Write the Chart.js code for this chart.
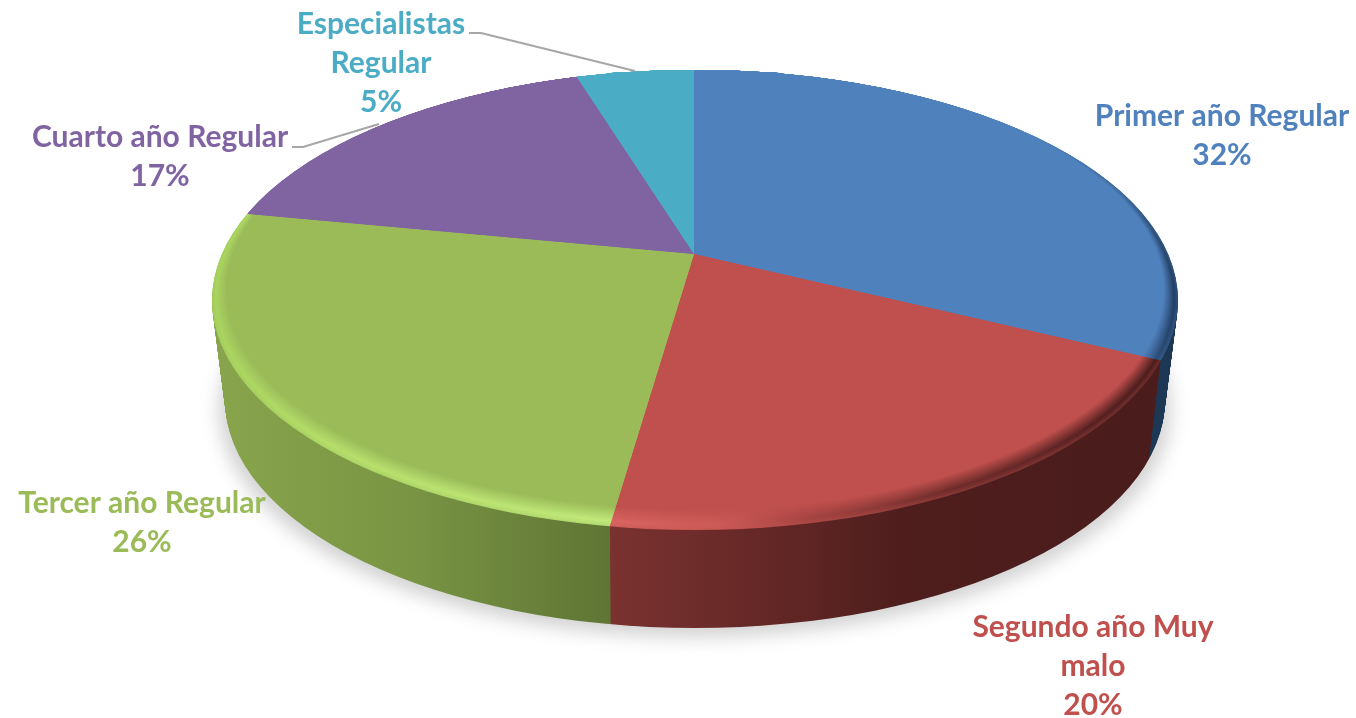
<!DOCTYPE html>
<html>
<head>
<meta charset="utf-8">
<title>Pie</title>
<script src="https://cdn.jsdelivr.net/npm/chart.js@4/dist/chart.umd.min.js"></script>
<style>
    html, body { margin: 0; padding: 0; background: #fff; }
    canvas { display: block; }
</style>
</head>
<body>
<canvas id="pie" width="1356" height="718"></canvas>
<script>
const categories = ['Primer año Regular', 'Segundo año Muy malo', 'Tercer año Regular', 'Cuarto año Regular', 'Especialistas Regular'];
const shares = [32.2, 20.1, 25.7, 17.2, 4.8];
const labelLines = [
    ['Primer año Regular'],
    ['Segundo año Muy', 'malo'],
    ['Tercer año Regular'],
    ['Cuarto año Regular'],
    ['Especialistas', 'Regular']
];

const topColors = ['#4f81bd', '#c0504d', '#9bbb59', '#8064a2', '#4bacc6'];
const textColors = ['#4f81bd', '#c0504d', '#9bbb59', '#8064a2', '#4bacc6'];
// horizontal colour stops [x, colour] for the side wall and the bevel of each slice
const wallStops = [
    [[1050, '#21405f'], [1180, '#1c3653']],
    [[610, '#7a3230'], [780, '#622725'], [900, '#4e1e1d'], [1160, '#4a1c1c']],
    [[215, '#88a44c'], [400, '#7a9644'], [610, '#5f7535']],
    [[0, '#5e4a78'], [1356, '#5e4a78']],
    [[0, '#38808f'], [1356, '#38808f']]
];
const rimStops = [
    [[1040, '#4f81bd'], [1120, '#3f6a9c'], [1180, '#1f3a5e']],
    [[610, '#da6461'], [720, '#cc5a57'], [800, '#a84543'], [950, '#6e2c2a'], [1160, '#4a1c1c']],
    [[215, '#a9d45f'], [330, '#b5de6a'], [600, '#c0e97a']],
    [[0, '#8064a2'], [1356, '#8064a2']],
    [[0, '#4bacc6'], [1356, '#4bacc6']]
];
const labelPos = [[1222, 116], [1093, 627], [142, 503], [160, 137], [381, 24]];
const leaderLines = [
    [[469, 33], [481, 33], [635, 71]],
    [[292, 147], [303, 147], [379, 124]]
];

// geometry of the tilted pie on the page
const apex = { x: 694, y: 254 };
const topRim = { x: 695, y: 300, rx: 483, ry: 230 };
const baseRim = { x: 695, y: 400, rx: 470, ry: 228 };
const tilt = 0.47;
const reach = 640;

function hexMix(a, b, f) {
    const pa = [1, 3, 5].map(i => parseInt(a.substr(i, 2), 16));
    const pb = [1, 3, 5].map(i => parseInt(b.substr(i, 2), 16));
    const c = pa.map((v, i) => Math.round(v + (pb[i] - v) * f));
    return `rgb(${c[0]},${c[1]},${c[2]})`;
}

function makeGradient(ctx, stops, base, f) {
    const x0 = stops[0][0];
    const x1 = stops[stops.length - 1][0];
    const g = ctx.createLinearGradient(x0, 0, x1, 0);
    stops.forEach(s => {
        g.addColorStop((s[0] - x0) / (x1 - x0), base ? hexMix(base, s[1], f) : s[1]);
    });
    return g;
}

// paints the chart's own arcs inside one ellipse, squashed onto the page
function paintArcs(chart, ctx, rim, dy, fills) {
    const arcs = chart.getDatasetMeta(0).data;
    const sx = reach / arcs[0].outerRadius;
    const sy = sx * tilt;
    ctx.save();
    ctx.beginPath();
    ctx.ellipse(rim.x, rim.y, rim.rx, rim.ry, 0, 0, Math.PI * 2);
    ctx.clip();
    arcs.forEach((arc, i) => {
        // gradients are laid out in page pixels, so paint the fill through a second clip
        ctx.save();
        ctx.translate(apex.x, apex.y + dy);
        ctx.scale(sx, sy);
        ctx.translate(-arc.x, -arc.y);
        const original = arc.options;
        const fill = fills[i];
        arc.options = Object.assign({}, original, { backgroundColor: '#000' });
        const realFill = ctx.fill;
        ctx.fill = function () {
            ctx.clip();
            ctx.setTransform(1, 0, 0, 1, 0, 0);
            ctx.fillStyle = fill;
            ctx.fillRect(0, 0, 1356, 718);
        };
        arc.draw(ctx);
        ctx.fill = realFill;
        arc.options = original;
        ctx.restore();
    });
    ctx.restore();
}

const tiltedPie = {
    id: 'tiltedPie',
    beforeDatasetsDraw(chart) {
        const ctx = chart.ctx;

        // soft shadow on the ground
        ctx.save();
        ctx.filter = 'blur(9px)';
        ctx.fillStyle = '#d2d2d2';
        ctx.beginPath();
        ctx.ellipse(baseRim.x, baseRim.y + 9, baseRim.rx + 6, baseRim.ry, 0, 0, Math.PI * 2);
        ctx.fill();
        ctx.restore();

        // side wall, stacked from the bottom up
        const wallFills = wallStops.map(s => makeGradient(ctx, s));
        const depth = baseRim.y - topRim.y;
        for (let d = depth; d > 0; d--) {
            const t = d / depth;
            paintArcs(chart, ctx, {
                x: topRim.x,
                y: topRim.y + d,
                rx: topRim.rx + (baseRim.rx - topRim.rx) * t,
                ry: topRim.ry + (baseRim.ry - topRim.ry) * t
            }, d, wallFills);
        }

        // top face with the bevel running round the front
        const bevel = 20;
        const peak = 5;
        for (let k = 0; k <= bevel; k++) {
            const f = k < peak ? 0.7 + k * 0.06 : Math.max(0, (bevel - k) / (bevel - peak));
            const fills = rimStops.map((s, i) => makeGradient(ctx, s, topColors[i], Math.min(1, f)));
            paintArcs(chart, ctx, {
                x: topRim.x,
                y: topRim.y - k / 2,
                rx: topRim.rx - k * 0.7,
                ry: topRim.ry - k / 2
            }, 0, fills);
        }
        return false;
    },
    afterDraw(chart) {
        const ctx = chart.ctx;
        ctx.save();
        ctx.strokeStyle = '#a6a6a6';
        ctx.lineWidth = 2;
        leaderLines.forEach(line => {
            ctx.beginPath();
            line.forEach((p, i) => i ? ctx.lineTo(p[0], p[1]) : ctx.moveTo(p[0], p[1]));
            ctx.stroke();
        });
        ctx.font = 'bold 30px Lato';
        ctx.textAlign = 'center';
        ctx.textBaseline = 'middle';
        labelLines.forEach((lines, i) => {
            ctx.fillStyle = textColors[i];
            const rows = lines.concat(`${Math.round(shares[i])}%`);
            rows.forEach((row, r) => {
                ctx.fillText(row, labelPos[i][0], labelPos[i][1] + r * 39);
            });
        });
        ctx.restore();
    }
};

new Chart(document.getElementById('pie'), {
    type: 'pie',
    data: {
        labels: categories,
        datasets: [{
            data: shares,
            backgroundColor: topColors,
            borderWidth: 0
        }]
    },
    options: {
        responsive: false,
        animation: false,
        layout: { padding: 0 },
        plugins: {
            legend: { display: false },
            tooltip: { enabled: false }
        }
    },
    plugins: [tiltedPie]
});
</script>
</body>
</html>
